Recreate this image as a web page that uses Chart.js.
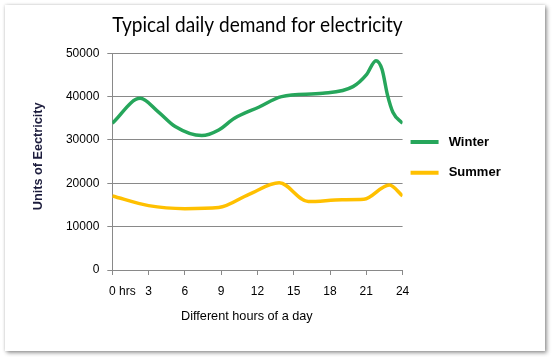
<!DOCTYPE html>
<html>
<head>
<meta charset="utf-8">
<script src="https://cdn.jsdelivr.net/npm/chart.js@4/dist/chart.umd.min.js"></script>
<style>
  html, body { margin: 0; padding: 0; background: #ffffff; width: 552px; height: 357px; overflow: hidden; }
  #frame { position: absolute; left: 5px; top: 5px; width: 540px; height: 346px; background: #fff;
           box-shadow: 2px 2px 4px rgba(0,0,0,0.38), 0 0 3px rgba(0,0,0,0.18); }
  #c { position: absolute; left: 0; top: 0; }
</style>
</head>
<body>
<div id="frame"></div>
<canvas id="c" width="552" height="357"></canvas>
<script>
// ---- data ----
const chartTitle = 'Typical daily demand for electricity';
const xAxisTitle = 'Different hours of a day';
const yAxisTitle = 'Units of Eectricity';
const seriesNames = ['Winter', 'Summer'];

const winterHours  = [0, 2.3, 3.8, 5.2, 7.4, 8.8, 10.1, 12.1, 14, 17.4, 19.9, 21, 21.8, 22.3, 22.75, 23.2, 24];
const winterValues = [33850, 39600, 36500, 33100, 31000, 32300, 35000, 37550, 40000, 40770, 42300, 45000, 48300, 46300, 40400, 36400, 33850];

const summerHours  = [0, 3, 6, 8.8, 11.3, 13.8, 16.2, 19, 20.8, 22.9, 24];
const summerValues = [17080, 14850, 14150, 14400, 17460, 20100, 15800, 16200, 16300, 19600, 17080];

const xTickValues = [0, 3, 6, 9, 12, 15, 18, 21, 24];
const xTickLabels = ['0 hrs', '3', '6', '9', '12', '15', '18', '21', '24'];
const yTickValues = [0, 10000, 20000, 30000, 40000, 50000];
const yTickLabels = ['0', '10000', '20000', '30000', '40000', '50000'];

const seriesColors = ['#26a65b', '#ffc000'];

function toPoints(xs, ys) { return xs.map((x, i) => ({ x: x, y: ys[i] })); }

const gridColor = '#898989';

new Chart(document.getElementById('c'), {
  type: 'line',
  data: {
    datasets: [
      { label: seriesNames[0], data: toPoints(winterHours, winterValues), borderColor: seriesColors[0],
        backgroundColor: seriesColors[0], borderWidth: 3.5, pointRadius: 0, cubicInterpolationMode: 'monotone', fill: false },
      { label: seriesNames[1], data: toPoints(summerHours, summerValues), borderColor: seriesColors[1],
        backgroundColor: seriesColors[1], borderWidth: 3.5, pointRadius: 0, cubicInterpolationMode: 'monotone', fill: false }
    ]
  },
  options: {
    responsive: false,
    animation: false,
    devicePixelRatio: 1,
    layout: { padding: { top: 0, left: 0, right: 41.3, bottom: 32.6 } },
    plugins: {
      tooltip: { enabled: false },
      title: {
        display: true,
        text: chartTitle,
        fullSize: false,
        color: '#000',
        font: { family: 'Lato', size: 20.3, weight: 'normal', lineHeight: 1.2 },
        padding: { top: 13.7, bottom: 15.2 }
      },
      legend: {
        display: true,
        position: 'right',
        align: 'center',
        fullSize: true,
        labels: {
          usePointStyle: true,
          pointStyleWidth: 28,
          padding: 8,
          color: '#000',
          font: { family: 'Liberation Sans', size: 13, weight: 'bold', lineHeight: 1.746 },
          generateLabels: function(chart) {
            return chart.data.datasets.map((ds, i) => ({
              text: [' ' + ds.label],
              fillStyle: ds.borderColor,
              strokeStyle: ds.borderColor,
              lineWidth: 4,
              pointStyle: 'line',
              hidden: false,
              datasetIndex: i,
              fontColor: '#000'
            }));
          }
        }
      }
    },
    scales: {
      x: {
        type: 'linear',
        min: 0,
        max: 24,
        afterBuildTicks: function(scale) { scale.ticks = xTickValues.map(v => ({ value: v })); },
        afterFit: function(scale) { scale.height = 357 - 32.6 - 270; },
        ticks: {
          autoSkip: false,
          maxRotation: 0,
          padding: 9.8,
          color: '#000',
          font: { family: 'Liberation Sans', size: 12 },
          callback: function(value) {
            const i = xTickValues.indexOf(value);
            const t = i >= 0 ? xTickLabels[i] : '';
            return i === 0 ? '      ' + t : t;
          }
        },
        grid: { drawOnChartArea: false, drawTicks: true, tickLength: 5, color: gridColor, lineWidth: 1 },
        border: { display: true, color: gridColor, width: 1 },
        title: {
          display: true,
          text: xAxisTitle + '      ',
          color: '#000',
          font: { family: 'Liberation Sans', size: 12.7, lineHeight: 1.2 },
          padding: { top: 0, bottom: 0 }
        }
      },
      y: {
        type: 'linear',
        min: 0,
        max: 50000,
        afterBuildTicks: function(scale) { scale.ticks = yTickValues.map(v => ({ value: v })); },
        afterFit: function(scale) { scale.width = 112.3; },
        ticks: {
          padding: 8,
          color: '#000',
          font: { family: 'Liberation Sans', size: 12 },
          callback: function(value) {
            const i = yTickValues.indexOf(value);
            return i >= 0 ? yTickLabels[i] : '';
          }
        },
        grid: { drawTicks: true, tickLength: 5, color: gridColor, lineWidth: 1 },
        border: { display: true, color: gridColor, width: 1 },
        title: {
          display: true,
          text: '   ' + yAxisTitle,
          color: '#1c1c3c',
          font: { family: 'Liberation Sans', size: 12.7, weight: 'bold', lineHeight: 1.2 },
          padding: { top: 30.4, bottom: 0 }
        }
      }
    }
  }
});
</script>
</body>
</html>
